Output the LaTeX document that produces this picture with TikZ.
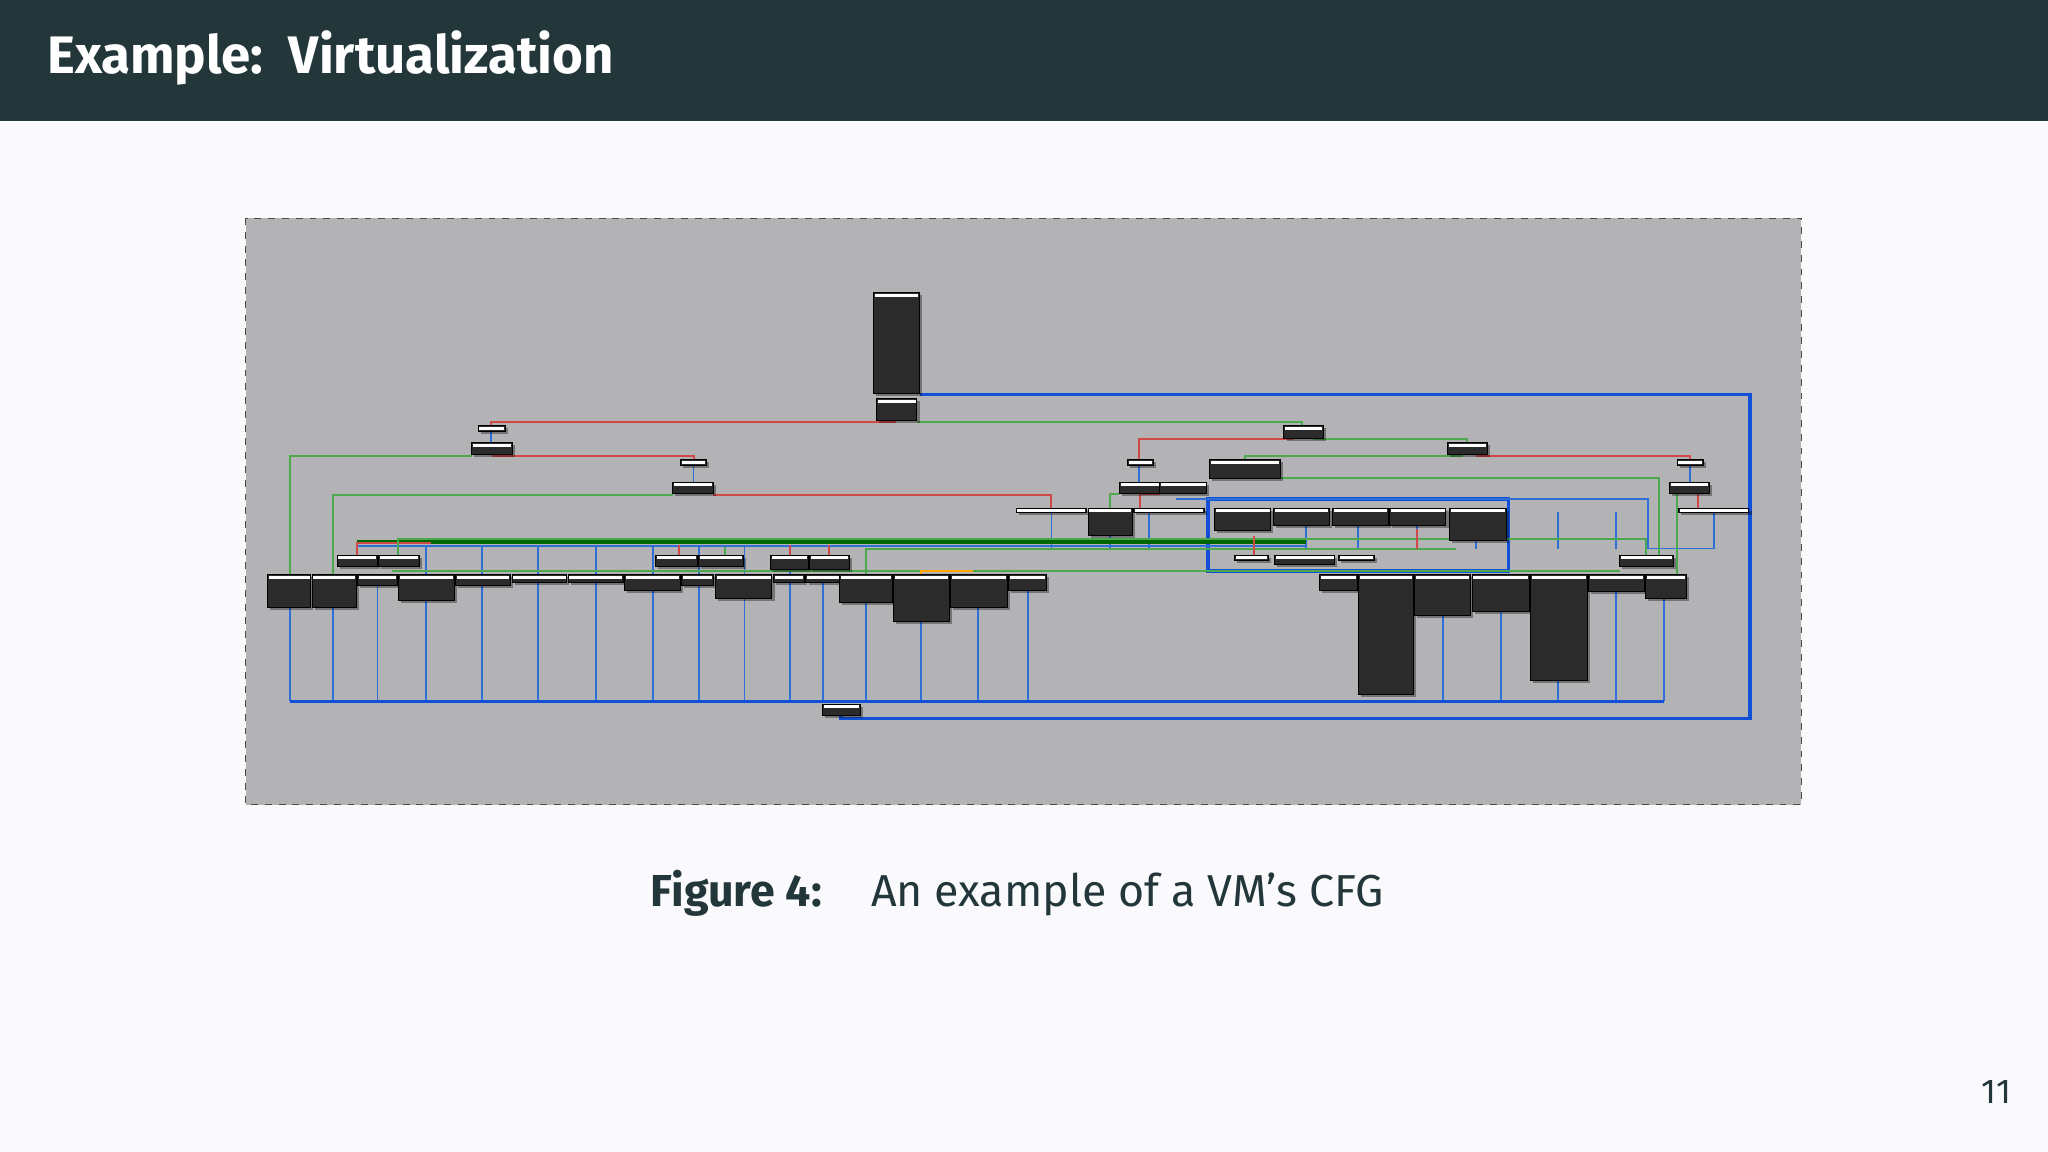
\documentclass[tikz,border=0pt]{standalone}
\usepackage{fontspec}
\setmainfont{Fira Sans}
\definecolor{hdr}{HTML}{23373B}
\definecolor{bg}{HTML}{FAFAFC}
\definecolor{pane}{HTML}{B3B2B4}
\definecolor{blk}{HTML}{2B2B2C}
\definecolor{eb}{HTML}{2F6FD8}
\definecolor{ebd}{HTML}{1050D8}
\definecolor{eg}{HTML}{4CA84C}
\definecolor{er}{HTML}{D04848}
\tikzset{
 blue e/.style={draw=eb,line width=0.8pt},
 bold e/.style={draw=ebd,line width=1.6pt},
 green e/.style={draw=eg,line width=0.9pt},
 red e/.style={draw=er,line width=0.9pt},
}
\newcommand\blk[4]{%
 \fill[black,opacity=.35] (#1+2,#2+2) rectangle (#3+2,#4+2);
 \draw[fill=blk,draw=black,line width=0.4pt] (#1,#2) rectangle (#3,#4);
 \fill[white] (#1+1,#2+1) rectangle (#3-1,#2+3.2);}
\begin{document}
\begin{tikzpicture}[x=0.02cm,y=-0.02cm]
\useasboundingbox (0,0) rectangle (1568,882);
\fill[bg] (0,0) rectangle (1568,882);
\fill[hdr] (0,0) rectangle (1568,93);
\node[anchor=west,text=white,font=\fontsize{23}{26}\selectfont\bfseries] (title) at (30,44) {Example:\, Virtualization};
% pane
\draw[fill=pane,draw=black!70,dashed,line width=0.4pt] (188,167) rectangle (1379,616);
% bottom blue rail and verticals
\foreach \x in {222,255,289,326,369,412,456,500,535,570,605,630,663,705,749,787,1105,1149,1193,1237,1274}{\draw[blue e] (\x,446) -- (\x,537);}
\draw[bold e] (222,537) -- (1274,537);
\draw[bold e] (704,302) -- (1340,302) -- (1340,550) -- (644,550) -- (644,546);
% upper-level blue verticals row 389-440
\foreach \x in {805,850,880,1000,1040,1085,1130,1193,1237,1312}{\draw[blue e] (\x,392) -- (\x,420);}
\draw[bold e] (925,382) rectangle (1155,437);
\draw[blue e] (900,382) -- (1262,382) -- (1262,420) -- (1312,420) -- (1312,392);
\draw[blue e] (273,418) -- (1000,418);
\foreach \x in {326,369,412,456,500,535,570,605}{\draw[blue e] (\x,418) -- (\x,440);}
\draw[blue e] (376,330) -- (376,339); \draw[blue e] (531,356) -- (531,369);
\draw[blue e] (872,356) -- (872,369); \draw[blue e] (1294,356) -- (1294,369);
% red / green connectors
\draw[red e] (686,323) -- (376,323) -- (376,326);
\draw[green e] (702,323) -- (997,323) -- (997,326);
\draw[red e] (377,349) -- (531,349) -- (531,352);
\draw[green e] (361,349) -- (222,349) -- (222,440);
\draw[green e] (515,379) -- (255,379) -- (255,440);
\draw[red e] (546,379) -- (805,379) -- (805,389);
\draw[red e] (990,336) -- (872,336) -- (872,352);
\draw[green e] (1005,336) -- (1123,336) -- (1123,339);
\draw[green e] (1120,349) -- (953,349) -- (953,352);
\draw[red e] (1130,349) -- (1294,349) -- (1294,352);
\draw[green e] (975,366) -- (1270,366) -- (1270,425);
\draw[green e] (1285,378) -- (1284,378) -- (1284,440) -- (1275,440);
\draw[red e] (1300,378) -- (1300,389);
\draw[red e] (888,378) -- (873,378) -- (873,389);
\draw[green e] (857,378) -- (850,378) -- (850,389);
\draw[draw=green!40!black,line width=1.6pt] (273,415) -- (1000,415);
\draw[red e] (273,425) -- (273,416) -- (330,416);
\draw[green e] (305,425) -- (305,413) -- (1260,413) -- (1260,425);
\draw[red e] (520,425) -- (520,417); \draw[red e] (605,425) -- (605,417); \draw[red e] (635,425) -- (635,417);
\draw[green e] (555,425) -- (555,419);
\draw[green e] (663,440) -- (663,420) -- (1115,420);
\draw[red e] (960,425) -- (960,410); \draw[red e] (1085,420) -- (1085,405);
\draw[green e] (300,437) -- (1240,437);
\draw[draw=orange!70!yellow,line width=0.8pt] (705,440) -- (705,437) -- (745,437);
% blocks
\blk{669}{224}{704}{301}
\blk{671}{305}{702}{322}
\blk{366}{326}{387}{330}
\blk{361}{339}{392}{348}
\blk{521}{352}{541}{356}
\blk{515}{369}{546}{378}
\blk{983}{326}{1013}{336}
\blk{1108}{339}{1139}{348}
\blk{926}{352}{980}{366}
\blk{863}{352}{883}{356}
\blk{857}{369}{888}{378}
\blk{888}{369}{924}{378}
\blk{1284}{352}{1304}{356}
\blk{1278}{369}{1309}{378}
\blk{778}{389}{832}{392}
\blk{833}{389}{867}{410}
\blk{868}{389}{922}{392}
\blk{930}{389}{973}{406}
\blk{975}{389}{1018}{402}
\blk{1020}{389}{1063}{402}
\blk{1064}{389}{1107}{402}
\blk{1110}{389}{1153}{414}
\blk{1285}{389}{1339}{392}
\blk{258}{425}{289}{434}
\blk{290}{425}{321}{434}
\blk{502}{425}{534}{434}
\blk{535}{425}{569}{434}
\blk{590}{425}{619}{436}
\blk{620}{425}{650}{436}
\blk{945}{425}{971}{429}
\blk{976}{425}{1022}{432}
\blk{1025}{425}{1052}{429}
\blk{1240}{425}{1281}{434}
\blk{205}{440}{238}{465}
\blk{239}{440}{273}{465}
\blk{274}{440}{304}{448}
\blk{305}{440}{348}{460}
\blk{349}{440}{391}{448}
\blk{392}{440}{434}{446}
\blk{435}{440}{477}{446}
\blk{478}{440}{521}{452}
\blk{522}{440}{546}{448}
\blk{548}{440}{591}{458}
\blk{592}{440}{616}{446}
\blk{617}{440}{643}{446}
\blk{643}{440}{683}{461}
\blk{684}{440}{727}{476}
\blk{728}{440}{771}{465}
\blk{772}{440}{801}{452}
\blk{1010}{440}{1039}{452}
\blk{1040}{440}{1082}{532}
\blk{1083}{440}{1126}{471}
\blk{1127}{440}{1171}{468}
\blk{1172}{440}{1215}{521}
\blk{1216}{440}{1259}{453}
\blk{1260}{440}{1291}{458}
\blk{630}{539}{659}{548}
% caption
\node[anchor=west,text=hdr,font=\fontsize{19.5}{22}\selectfont,inner sep=0pt] (cap) at (498,684) {\textbf{Figure 4:}\hspace{0.75em} An example of a VM’s CFG};
\node[anchor=east,text=hdr,font=\fontsize{15}{18}\selectfont,inner sep=0pt] (pg) at (1540,836) {11};
\end{tikzpicture}
\end{document}
